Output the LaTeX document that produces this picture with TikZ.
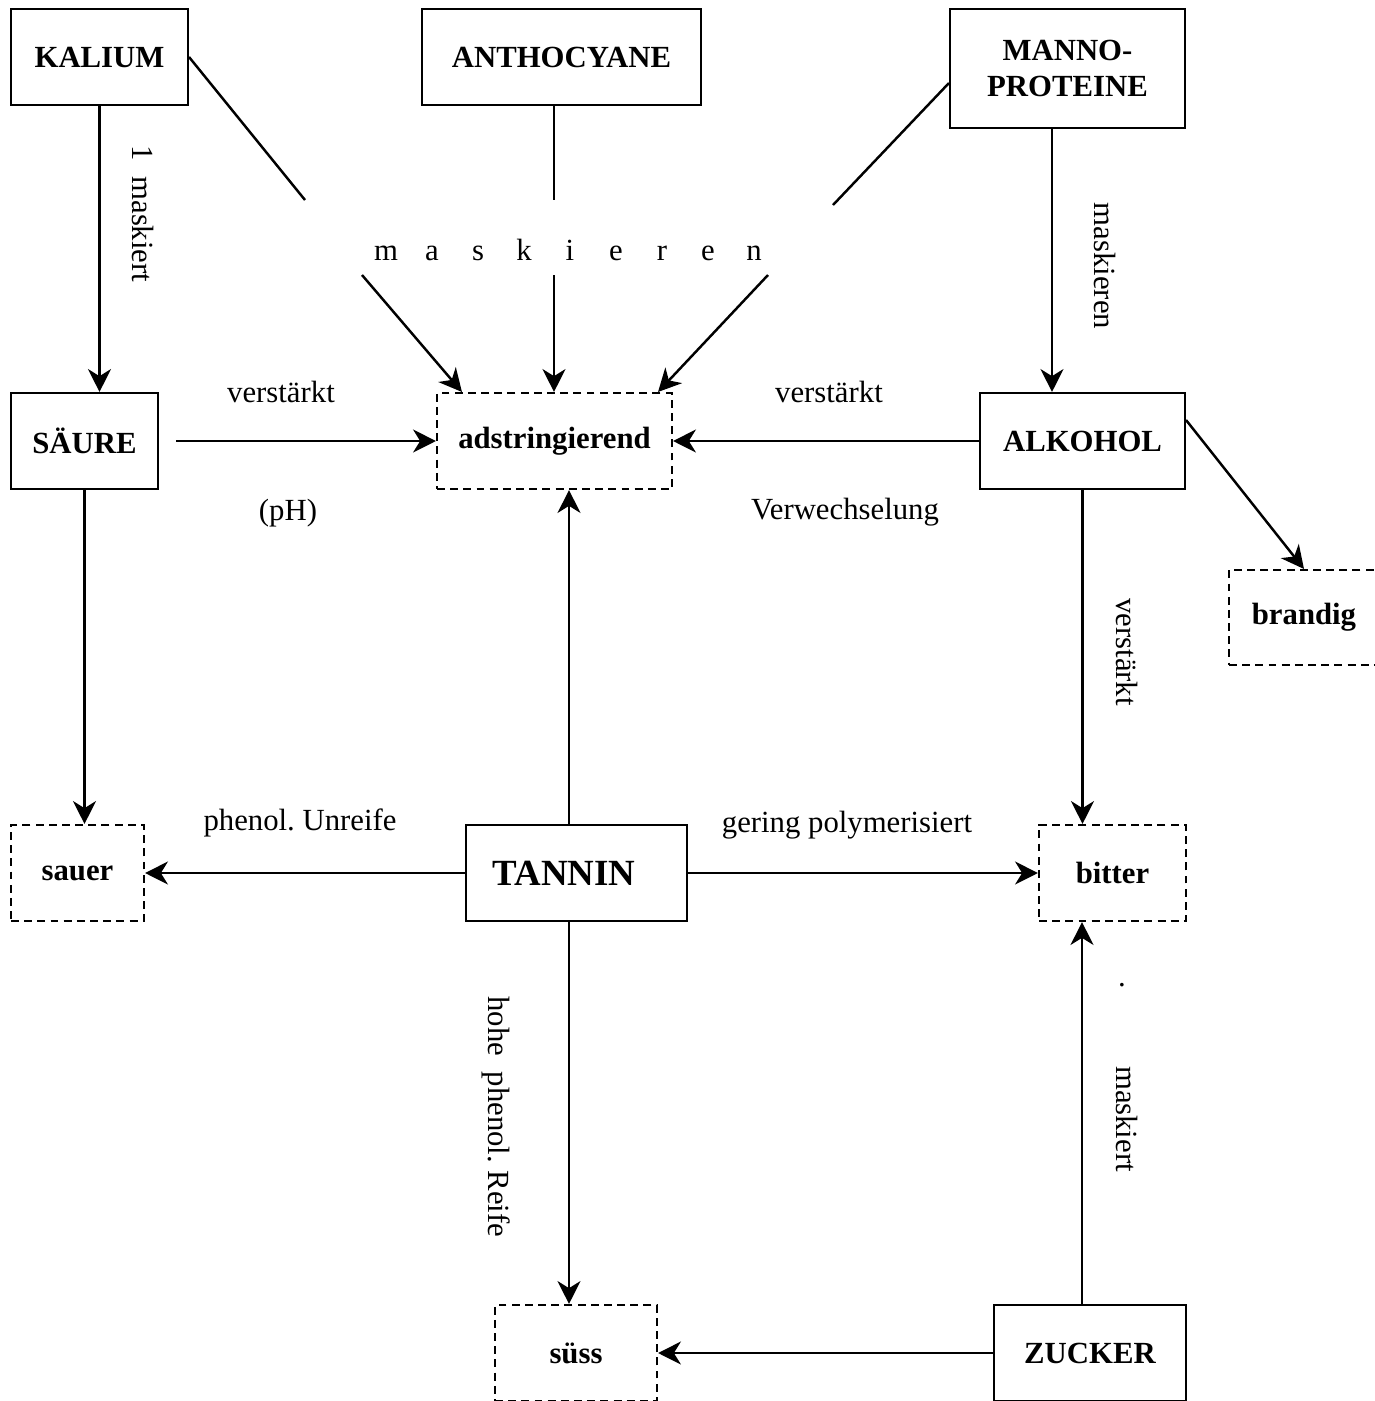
\documentclass[tikz,border=0pt]{standalone}
\usepackage{fontspec}
\setmainfont{Liberation Serif}
\usetikzlibrary{arrows.meta,calc,positioning}
\newcommand{\sperr}[1]{\makebox[0.92cm]{#1}}
\frenchspacing

\begin{document}
\begin{tikzpicture}[x=0.02cm, y=-0.02cm, lbl/.style={inner sep=1pt, font=\fontsize{17.5}{21}\selectfont}, arr/.style={line width=1.4pt, -{Stealth[length=13pt,width=13pt,inset=4pt]}}]
\tikzstyle{box}=[draw, line width=1.2pt, inner sep=0pt, align=center, font=\fontsize{17.5}{20}\selectfont\bfseries, minimum height=1.92cm]
\tikzstyle{effect}=[box, dash pattern=on 4.5pt off 3pt]
\useasboundingbox (0,0) rectangle (1374,1401);
% Stoffe
\node[box, minimum width=3.54cm] (k) at (99.5,57) {KALIUM};
\node[box, minimum width=5.58cm] (an) at (561.5,57) {ANTHOCYANE};
\node[box, minimum width=4.7cm, minimum height=2.38cm] (mp) at (1067.5,68.5) {MANNO-\\PROTEINE};
\node[box, minimum width=2.94cm] (s) at (84.5,441) {SÄURE};
\node[box, minimum width=4.1cm] (al) at (1082.5,441) {ALKOHOL};
\node[box, minimum width=4.42cm, font=\fontsize{21}{24}\selectfont\bfseries] (t) at (576.5,873) {TANNIN\hspace*{0.5cm}};
\node[box, minimum width=3.84cm] (z) at (1090,1353) {ZUCKER};
% Eindruecke
\node[effect, minimum width=4.7cm] (ad) at (554.5,441) {adstringierend};
\node[effect, minimum width=3cm, minimum height=1.9cm] (br) at (1304,617.5) {brandig};
\node[effect, minimum width=2.66cm] (sa) at (77.5,873) {sauer};
\node[effect, minimum width=2.94cm] (bi) at (1112.5,873) {bitter};
\node[effect, minimum width=3.24cm] (su) at (576,1353) {süss};
% maskieren
\node[lbl] (mask) at (570,250) {\sperr{m}\sperr{a}\sperr{s}\sperr{k}\sperr{i}\sperr{e}\sperr{r}\sperr{e}\sperr{n}};
\coordinate (k1) at (305,200);
\coordinate (k2) at (362,275);
\coordinate (a1) at (554,200);
\coordinate (a2) at (554,275);
\coordinate (m1) at (833,205);
\coordinate (m2) at (768,275);
\draw[line width=1.4pt] (k.east) -- (k1);
\draw[line width=1.4pt] (a1 |- an.south) -- (a1);
\draw[line width=1.4pt] ([yshift=-0.29cm]mp.west) -- (m1);
\draw[arr] (k2) -- ([xshift=0.52cm]ad.north west);
\draw[arr] (a2) -- (a2 |- ad.north);
\draw[arr] (m2) -- ([xshift=-0.3cm]ad.north east);
% Pfeile
\draw[arr] (k.south) -- (k.south |- s.north);
\draw[arr] ([xshift=-0.31cm]mp.south) -- ([xshift=-0.31cm]mp.south |- al.north);
\draw[arr] ([xshift=0.34cm]s.east) -- (ad.west);
\draw[arr] (al.west) -- (ad.east);
\draw[arr] ([yshift=0.42cm]al.east) -- (br.north);
\draw[arr] (al.south) -- (al.south |- bi.north);
\draw[arr] (s.south) -- (s.south |- sa.north);
\draw[arr] ([xshift=-0.15cm]t.north) -- ([xshift=-0.15cm]t.north |- ad.south);
\draw[arr] ([xshift=-0.15cm]t.south) -- ([xshift=-0.15cm]t.south |- su.north);
\foreach \i/\j in {t/sa,t/bi,z/su}{\draw[arr] (\i) -- (\j);}
\draw[arr] ([xshift=-0.16cm]z.north) -- ([xshift=-0.16cm]z.north |- bi.south);
% Beschriftungen
\node[lbl, rotate=-90] (l1) at (143,214) {1\ \ maskiert};
\node[lbl, rotate=-90] (l2) at (1105,266) {maskieren};
\node[lbl] (l3) at (281,392) {verstärkt};
\node[lbl] (l4) at (288,513) {(pH)};
\node[lbl] (l5) at (829,392) {verstärkt};
\node[lbl] (l6) at (845,512) {Verwechselung};
\node[lbl, rotate=-90] (l7) at (1127,652) {verstärkt};
\node[lbl] (l8) at (300,823) {phenol. Unreife};
\node[lbl] (l9) at (847,825) {gering polymerisiert};
\node[lbl, rotate=-90] (l10) at (496,1117) {hohe\ \ phenol. Reife};
\node[lbl, rotate=-90] (l11) at (1127,1119) {maskiert};
\node[lbl] (l12) at (1122,985) {.};
\end{tikzpicture}
\end{document}
